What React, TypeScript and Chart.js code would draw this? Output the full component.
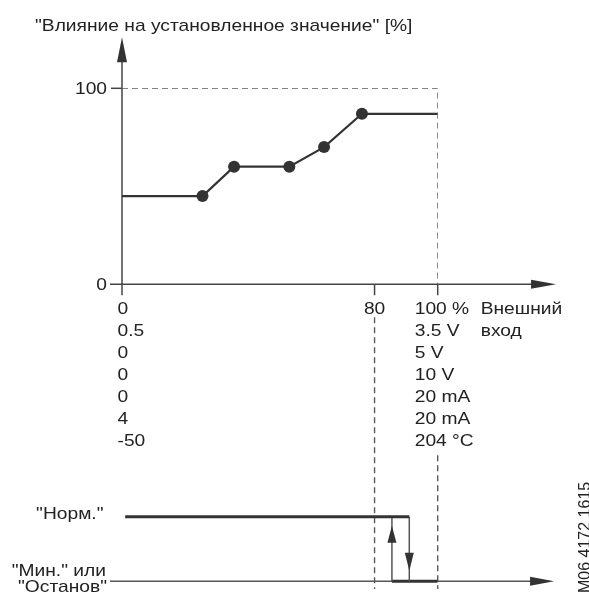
import React, { useEffect, useRef } from 'react';
import { Chart, registerables } from 'chart.js';

Chart.register(...registerables);

// ---- data ----
const yAxisTitle = '"Влияние на установленное значение" [%]';
const xAxisTitle = ['Внешний', 'вход'];
const yTickValues = [0, 100];
const inputPercent = [0, 25.5, 35.5, 53, 64, 76, 100];
const setpointInfluence = [45, 45, 60, 60, 70, 87, 87];
const rangeStartLabels = ['0', '0.5', '0', '0', '0', '4', '-50'];
const rangeEndLabels = ['100 %', '3.5 V', '5 V', '10 V', '20 mA', '20 mA', '204 °C'];
const markValue = 80;
const fullScale = 100;
const normStart = 1;
const switchBackAt = 85.5;
const switchOffAt = 91;
const normState = 1;
const stopState = 0;
const stateNormLabel = '"Норм."';
const stateStopLabels = ['"Мин." или', '"Останов"'];
const drawingCode = 'M06 4172 1615';
const axisEndX = 137.5;
const axisEndY = 126;

// ---- style ----
const FONT = '17px "Liberation Sans", Arial, sans-serif';
const STRETCH = 1.13;
const TEXT = '#222222';
const INK = '#333333';
const AXIS = '#444444';
const DASH = '#5a5a5a';
const DASH_PATTERN = [6, 4];

function txt(ctx: CanvasRenderingContext2D, s: string, x: number, y: number, align: CanvasTextAlign = 'left') {
  ctx.save();
  ctx.translate(x, y);
  ctx.scale(STRETCH, 1);
  ctx.font = FONT;
  ctx.fillStyle = TEXT;
  ctx.textAlign = align;
  ctx.textBaseline = 'alphabetic';
  ctx.fillText(s, 0, 0);
  ctx.restore();
}
function seg(ctx: CanvasRenderingContext2D, x1: number, y1: number, x2: number, y2: number) {
  ctx.beginPath();
  ctx.moveTo(x1, y1);
  ctx.lineTo(x2, y2);
  ctx.stroke();
}
function head(ctx: CanvasRenderingContext2D, tx: number, ty: number, dir: string, len: number, half: number) {
  ctx.beginPath();
  ctx.moveTo(tx, ty);
  if (dir === 'up') { ctx.lineTo(tx - half, ty + len); ctx.lineTo(tx + half, ty + len); }
  else if (dir === 'down') { ctx.lineTo(tx - half, ty - len); ctx.lineTo(tx + half, ty - len); }
  else { ctx.lineTo(tx - len, ty - half); ctx.lineTo(tx - len, ty + half); }
  ctx.closePath();
  ctx.fill();
}

const decor = {
  id: 'decor',
  beforeDatasetsDraw(chart: any) {
    const { ctx, chartArea } = chart;
    const { x, y, y2 } = chart.scales;
    const x0 = x.getPixelForValue(0);
    const y0 = y.getPixelForValue(0);
    const rowBase = (i: number) => y0 + 30 + 22 * i;
    ctx.save();
    ctx.strokeStyle = AXIS;
    ctx.fillStyle = INK;
    ctx.lineWidth = 1.5;
    // y axis
    const yTip = y.getPixelForValue(axisEndY);
    seg(ctx, x0, y0 + 11, x0, yTip + 20);
    head(ctx, x0, yTip, 'up', 25, 5);
    // x axis
    const xTip = x.getPixelForValue(axisEndX);
    seg(ctx, x0 - 12, y0, xTip - 20, y0);
    head(ctx, xTip, y0, 'right', 25, 4.5);
    // y tick at 100
    seg(ctx, x0 - 11, y.getPixelForValue(fullScale), x0, y.getPixelForValue(fullScale));
    // x ticks
    [markValue, fullScale].forEach(v => seg(ctx, x.getPixelForValue(v), y0, x.getPixelForValue(v), y0 + 11));
    // dashed guides to the lower diagram
    ctx.setLineDash(DASH_PATTERN);
    ctx.strokeStyle = DASH;
    ctx.lineWidth = 1.4;
    seg(ctx, x.getPixelForValue(markValue), rowBase(0) + 3, x.getPixelForValue(markValue), chartArea.bottom);
    seg(ctx, x.getPixelForValue(fullScale), rowBase(rangeEndLabels.length - 1) + 9, x.getPixelForValue(fullScale), chartArea.bottom);
    ctx.setLineDash([]);
    // bottom axis
    const b = y2.getPixelForValue(stopState);
    ctx.strokeStyle = '#555';
    ctx.lineWidth = 1.5;
    seg(ctx, x0 - 12, b, xTip - 22, b);
    head(ctx, xTip - 2, b, 'right', 24, 4.5);
    ctx.restore();
  },
  afterDatasetsDraw(chart: any) {
    const { ctx } = chart;
    const { x, y, y2 } = chart.scales;
    const x0 = x.getPixelForValue(0);
    const y0 = y.getPixelForValue(0);
    const rowBase = (i: number) => y0 + 30 + 22 * i;
    ctx.save();
    ctx.fillStyle = INK;
    // hysteresis arrowheads
    head(ctx, x.getPixelForValue(switchBackAt), y2.getPixelForValue(normState) + 9, 'up', 17, 4.5);
    head(ctx, x.getPixelForValue(switchOffAt), y2.getPixelForValue(stopState) - 10.5, 'down', 18, 4.5);
    // texts
    txt(ctx, yAxisTitle, 35, 30.5);
    yTickValues.forEach(v => txt(ctx, String(v), x0 - 15, y.getPixelForValue(v) + 6, 'right'));
    rangeStartLabels.forEach((s, i) => txt(ctx, s, x0 - 4.5, rowBase(i)));
    rangeEndLabels.forEach((s, i) => txt(ctx, s, x.getPixelForValue(fullScale) - 23, rowBase(i)));
    txt(ctx, String(markValue), x.getPixelForValue(markValue), rowBase(0), 'center');
    xAxisTitle.forEach((s, i) => txt(ctx, s, x.getPixelForValue(fullScale) + 43, rowBase(i)));
    txt(ctx, stateNormLabel, x0 - 18.5, y2.getPixelForValue(normState) + 2.5, 'right');
    txt(ctx, stateStopLabels[0], x0 - 16, y2.getPixelForValue(stopState) - 5.6, 'right');
    txt(ctx, stateStopLabels[1], x0 - 15, y2.getPixelForValue(stopState) + 11, 'right');
    // drawing code, rotated
    ctx.save();
    ctx.translate(590, 593);
    ctx.rotate(-Math.PI / 2);
    ctx.font = '16px "Liberation Sans", Arial, sans-serif';
    ctx.fillStyle = TEXT;
    ctx.textAlign = 'left';
    ctx.textBaseline = 'alphabetic';
    ctx.fillText(drawingCode, 0, 0);
    ctx.restore();
    ctx.restore();
  },
};

export default function App() {
  const ref = useRef<HTMLCanvasElement>(null);
  useEffect(() => {
    if (!ref.current) return;
    const pts = (xs: number[], ys: number[]) => xs.map((v, i) => ({ x: v, y: ys[i] }));
    const last = inputPercent.length - 1;
    const chart = new Chart(ref.current, {
      type: 'line',
      data: {
        datasets: [
          {
            data: pts(inputPercent, setpointInfluence),
            borderColor: INK,
            borderWidth: 2.2,
            pointRadius: (c: any) => (c.dataIndex === 0 || c.dataIndex === last ? 0 : 6),
            pointBackgroundColor: INK,
            pointBorderWidth: 0,
            yAxisID: 'y',
          },
          {
            data: pts([0, fullScale, fullScale], [fullScale, fullScale, 0]),
            borderColor: DASH,
            borderWidth: 1.4,
            borderDash: DASH_PATTERN,
            pointRadius: 0,
            yAxisID: 'y',
          },
          {
            data: pts([normStart, switchOffAt], [normState, normState]),
            borderColor: INK,
            borderWidth: 3,
            pointRadius: 0,
            yAxisID: 'y2',
          },
          {
            data: pts([switchOffAt, switchOffAt], [normState, stopState]),
            borderColor: '#555',
            borderWidth: 1.5,
            pointRadius: 0,
            yAxisID: 'y2',
          },
          {
            data: pts([switchBackAt, switchBackAt], [stopState, normState]),
            borderColor: '#555',
            borderWidth: 1.5,
            pointRadius: 0,
            yAxisID: 'y2',
          },
          {
            data: pts([switchBackAt, fullScale], [stopState, stopState]),
            borderColor: INK,
            borderWidth: 3,
            pointRadius: 0,
            yAxisID: 'y2',
          },
        ],
      },
      options: {
        responsive: false,
        animation: false,
        devicePixelRatio: 1,
        layout: { padding: { left: 122, right: 151.3, top: 88.3, bottom: 5 } },
        scales: {
          x: { type: 'linear', min: 0, max: 100, display: false },
          y: { type: 'linear', min: -155.5, max: 100, display: false },
          y2: { type: 'linear', min: -0.12, max: 7.63, display: false },
        },
        plugins: { legend: { display: false }, tooltip: { enabled: false } },
        elements: { line: { tension: 0 } },
      },
      plugins: [decor],
    } as any);
    return () => chart.destroy();
  }, []);
  return (
    <div style={{ position: 'fixed', left: 0, top: 0, width: 589, height: 594, background: '#fff' }}>
      <canvas ref={ref} width={589} height={594} style={{ width: 589, height: 594, display: 'block' }} />
    </div>
  );
}
